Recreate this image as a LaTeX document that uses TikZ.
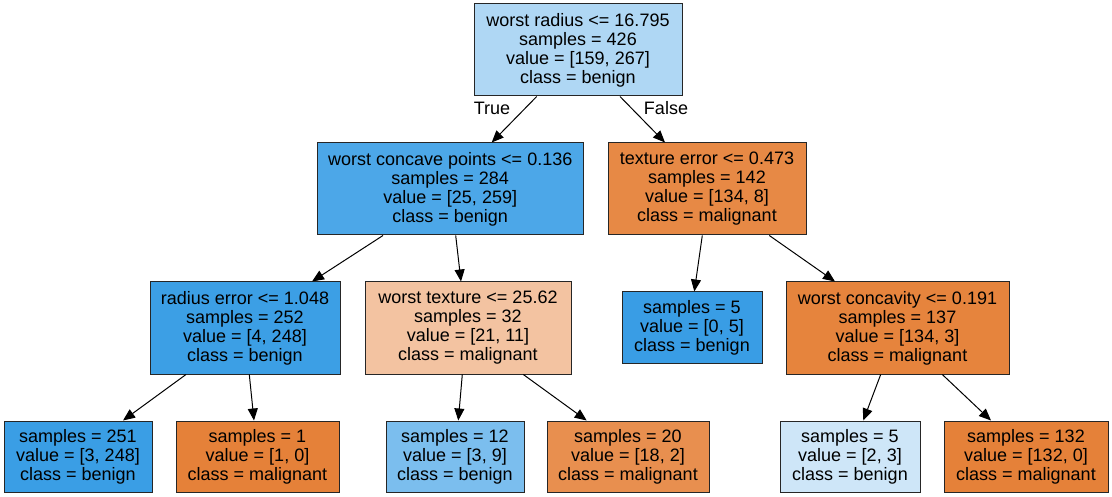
\documentclass[tikz,border=0pt]{standalone}
\usepackage{fontspec}
\setmainfont{Liberation Sans}
\usetikzlibrary{arrows.meta}
\definecolor{cRoot}{RGB}{175,215,244}
\definecolor{cA}{RGB}{76,167,232}
\definecolor{cB}{RGB}{231,137,69}
\definecolor{cC}{RGB}{60,159,229}
\definecolor{cD}{RGB}{243,195,161}
\definecolor{cBlue}{RGB}{57,157,229}
\definecolor{cE}{RGB}{230,132,61}
\definecolor{cF}{RGB}{58,158,229}
\definecolor{cOrange}{RGB}{229,129,57}
\definecolor{cG}{RGB}{123,190,238}
\definecolor{cH}{RGB}{232,143,79}
\definecolor{cI}{RGB}{206,230,248}
\begin{document}
\begin{tikzpicture}[x=1pt,y=-1pt,
  treebox/.style={draw=black!85, line width=1pt, align=center, inner sep=0pt,
    font=\fontsize{18}{19}\selectfont},
  big/.style={treebox, minimum height=92pt},
  leaf/.style={treebox, minimum height=71pt},
  arr/.style={draw=black, line width=1pt, -{Triangle[length=12pt,width=10pt]}},
  lbl/.style={font=\fontsize{18}{19}\selectfont, inner sep=0pt}
]
\useasboundingbox (0,0) rectangle (1112,497);
\node[big, fill=cRoot, minimum width=208pt] (root) at (578,50)
  {worst radius <= 16.795\\samples = 426\\value = [159, 267]\\class = benign};
\node[big, fill=cA, minimum width=266.5pt] (c1) at (450.25,189)
  {worst concave points <= 0.136\\samples = 284\\value = [25, 259]\\class = benign};
\node[big, fill=cB, minimum width=198pt] (c2) at (707,189)
  {texture error <= 0.473\\samples = 142\\value = [134, 8]\\class = malignant};
\node[big, fill=cC, minimum width=190pt] (c3) at (245,328)
  {radius error <= 1.048\\samples = 252\\value = [4, 248]\\class = benign};
\node[big, fill=cD, minimum width=206pt] (c4) at (468,328)
  {worst texture <= 25.62\\samples = 32\\value = [21, 11]\\class = malignant};
\node[leaf, fill=cBlue, minimum width=140pt] (c5) at (692,327.5)
  {samples = 5\\value = [0, 5]\\class = benign};
\node[big, fill=cE, minimum width=223pt] (c6) at (897.5,328)
  {worst concavity <= 0.191\\samples = 137\\value = [134, 3]\\class = malignant};
\node[leaf, fill=cF, minimum width=148pt] (l1) at (78,456.5)
  {samples = 251\\value = [3, 248]\\class = benign};
\node[leaf, fill=cOrange, minimum width=163pt] (l2) at (257.5,456.5)
  {samples = 1\\value = [1, 0]\\class = malignant};
\node[leaf, fill=cG, minimum width=138pt] (l3) at (455,456.5)
  {samples = 12\\value = [3, 9]\\class = benign};
\node[leaf, fill=cH, minimum width=162pt] (l4) at (628,456.5)
  {samples = 20\\value = [18, 2]\\class = malignant};
\node[leaf, fill=cI, minimum width=140pt] (l5) at (850,456.5)
  {samples = 5\\value = [2, 3]\\class = benign};
\node[leaf, fill=cOrange, minimum width=164pt] (l6) at (1026,456.5)
  {samples = 132\\value = [132, 0]\\class = malignant};

\draw[arr] ([xshift=-41.3pt]root.south) -- ([xshift=41.45pt]c1.north);
\draw[arr] ([xshift=42pt]root.south) -- ([xshift=-42pt]c2.north);
\draw[arr] ([xshift=-67.25pt]c1.south) -- ([xshift=67pt]c3.north);
\draw[arr] ([xshift=5.45pt]c1.south) -- ([xshift=-7pt]c4.north);
\draw[arr] ([xshift=-4.7pt]c2.south) -- ([xshift=2.3pt]c5.north);
\draw[arr] ([xshift=62.3pt]c2.south) -- ([xshift=-62.5pt]c6.north);
\draw[arr] ([xshift=-59pt]c3.south) -- ([xshift=45pt]l1.north);
\draw[arr] ([xshift=4.3pt]c3.south) -- ([xshift=-3.5pt]l2.north);
\draw[arr] ([xshift=-5.7pt]c4.south) -- ([xshift=3.3pt]l3.north);
\draw[arr] ([xshift=55.3pt]c4.south) -- ([xshift=-41.3pt]l4.north);
\draw[arr] ([xshift=-16.8pt]c6.south) -- ([xshift=13.3pt]l5.north);
\draw[arr] ([xshift=44.8pt]c6.south) -- ([xshift=-35pt]l6.north);

\node[lbl] (tlabel) at (492,108) {True};
\node[lbl] (flabel) at (666,108) {False};
\end{tikzpicture}
\end{document}
